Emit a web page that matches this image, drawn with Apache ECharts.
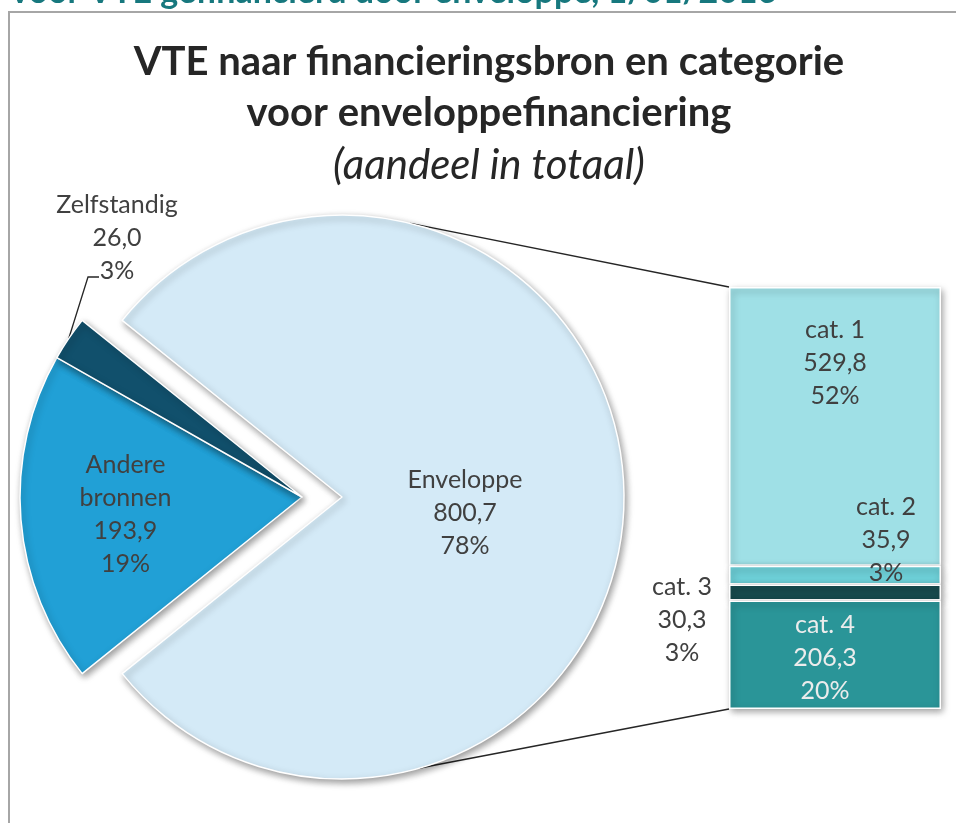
<!DOCTYPE html>
<html lang="nl">
<head>
    <meta charset="UTF-8">
    <title>VTE naar financieringsbron en categorie</title>
    <script src="https://cdn.jsdelivr.net/npm/echarts@6/dist/echarts.min.js"></script>
    <style>
        html, body { margin: 0; padding: 0; background: #fff; }
        #main { width: 956px; height: 823px; }
    </style>
</head>
<body>
<div id="main"></div>
<script>
    // taart: financieringsbron
    var bronNamen = ['Enveloppe', 'Andere\nbronnen', 'Zelfstandig'];
    var bronWaarden = [800.7, 193.9, 26.0];
    var bronPct = ['78%', '19%', '3%'];
    var bronKleuren = ['#d4eaf7', '#21a0d6', '#11506c'];

    // staaf: categorie binnen enveloppe (van boven naar onder)
    var catNamen = ['cat. 1', 'cat. 2', 'cat. 3', 'cat. 4'];
    var catWaarden = [529.8, 35.9, 30.3, 206.3];
    var catPct = ['52%', '3%', '3%', '20%'];
    var catKleuren = ['#9fe0e6', '#6dcfd7', '#174b4e', '#2a9598'];

    var cx = 342, cy = 497, R = 282, uitsprong = 40;
    var barLeft = 729, barTop = 287, barW = 212, barH = 422;
    var font = 'Lato, "Open Sans", sans-serif';

    var myChart = echarts.init(document.getElementById('main'));

    var totaal = bronWaarden.reduce(function (a, b) { return a + b; }, 0);
    var catTotaal = catWaarden.reduce(function (a, b) { return a + b; }, 0);
    var restHoek = (totaal - bronWaarden[0]) / totaal * 360;
    var startHoek = 180 - restHoek / 2;

    function fmt(v) { return v.toFixed(1).replace('.', ','); }

    var schaduw = { shadowBlur: 7, shadowColor: 'rgba(0,0,0,0.4)', shadowOffsetX: 2, shadowOffsetY: 3 };

    // label verschuivingen t.o.v. de standaardplaats
    var pieShift = [[-21, 16], [-33, 6], [0, 0]];
    var catShift = [[0, -63], [51, -35], [-153, 27], [-10, 3]];

    // punt op de rand van het zelfstandig-segment
    var zelfMid = (startHoek + bronWaarden[2] / totaal * 360 / 2) * Math.PI / 180;
    var zelfRand = [cx - uitsprong + R * Math.cos(zelfMid), cy - R * Math.sin(zelfMid)];
    var zelfLabel = [117, 238];

    function pieData(zichtbaar) {
        return bronWaarden.map(function (v, i) {
            var aan = zichtbaar(i);
            return {
                name: bronNamen[i],
                value: v,
                itemStyle: aan
                    ? Object.assign({ color: bronKleuren[i], borderColor: '#fff', borderWidth: 1.5 }, schaduw)
                    : { color: 'rgba(0,0,0,0)', borderWidth: 0 },
                label: { show: aan, position: i === 2 ? 'outside' : 'inside' },
                labelLine: { show: aan && i === 2 }
            };
        });
    }

    function pieSerie(centerX, zichtbaar) {
        return {
            type: 'pie',
            center: [centerX, cy],
            radius: R,
            startAngle: startHoek,
            clockwise: true,
            avoidLabelOverlap: false,
            silent: true,
            data: pieData(zichtbaar),
            label: {
                fontFamily: font,
                fontSize: 25,
                lineHeight: 33,
                color: '#404040',
                align: 'center',
                formatter: function (p) {
                    return p.name + '\n' + fmt(p.value) + '\n' + bronPct[p.dataIndex];
                }
            },
            labelLine: { lineStyle: { color: '#262626', width: 1.3 } },
            labelLayout: function (p) {
                if (p.dataIndex === 2) {
                    return {
                        x: zelfLabel[0], y: zelfLabel[1], align: 'center', verticalAlign: 'middle',
                        labelLinePoints: [zelfRand, [zelfLabel[0] - 29, zelfLabel[1] + 39], [zelfLabel[0] - 18, zelfLabel[1] + 39]]
                    };
                }
                return { dx: pieShift[p.dataIndex][0], dy: pieShift[p.dataIndex][1] };
            }
        };
    }

    var barSeries = catNamen.map(function (n, i) {
        return {
            type: 'bar',
            name: n,
            stack: 'env',
            z: 2 + i,
            data: [catWaarden[i]],
            barWidth: '100%',
            silent: true,
            itemStyle: Object.assign({ color: catKleuren[i], borderColor: '#fff', borderWidth: 1.5 }, schaduw),
            label: {
                show: true,
                position: 'inside',
                offset: catShift[i],
                fontFamily: font,
                fontSize: 25,
                lineHeight: 33,
                align: 'center',
                color: i === 3 ? '#ececec' : '#404040',
                formatter: function () { return n + '\n' + fmt(catWaarden[i]) + '\n' + catPct[i]; }
            }
        };
    }).reverse();

    var hoekBoven = 76 * Math.PI / 180, hoekOnder = 74 * Math.PI / 180;
    var option = {
        animation: false,
        grid: { left: barLeft, top: barTop, width: barW, height: barH },
        xAxis: { type: 'category', data: ['Enveloppe'], show: false },
        yAxis: { type: 'value', min: 0, max: catTotaal, show: false },
        graphic: [
            {
                type: 'rect', z: 0, silent: true,
                shape: { x: 9, y: 12, width: 980, height: 840 },
                style: { fill: 'none', stroke: '#a6a6a6', lineWidth: 2 }
            },
            {
                type: 'text', x: 11, y: 9, silent: true,
                style: {
                    text: 'voor VTE gefinancierd door enveloppe, 1/01/2016',
                    fontFamily: font, fontWeight: 'bold', fontSize: 34, fill: '#17787e',
                    align: 'left', verticalAlign: 'bottom'
                }
            },
            {
                type: 'text', x: 489, y: 62, silent: true,
                style: {
                    text: 'VTE naar financieringsbron en categorie',
                    fontFamily: font, fontWeight: 'bold', fontSize: 40, fill: '#262626',
                    align: 'center', verticalAlign: 'middle'
                }
            },
            {
                type: 'text', x: 489, y: 113, silent: true,
                style: {
                    text: 'voor enveloppefinanciering',
                    fontFamily: font, fontWeight: 'bold', fontSize: 40, fill: '#262626',
                    align: 'center', verticalAlign: 'middle'
                }
            },
            {
                type: 'text', x: 489, y: 165, silent: true,
                style: {
                    text: '(aandeel in totaal)',
                    fontFamily: font, fontStyle: 'italic', fontSize: 42, fill: '#262626',
                    align: 'center', verticalAlign: 'middle'
                }
            },
            {
                type: 'line', z: 1, silent: true,
                shape: { x1: cx + R * Math.cos(hoekBoven), y1: cy - R * Math.sin(hoekBoven), x2: barLeft, y2: barTop },
                style: { stroke: '#262626', lineWidth: 1.5 }
            },
            {
                type: 'line', z: 1, silent: true,
                shape: { x1: cx + R * Math.cos(hoekOnder), y1: cy + R * Math.sin(hoekOnder), x2: barLeft, y2: barTop + barH },
                style: { stroke: '#262626', lineWidth: 1.5 }
            }
        ],
        series: [
            pieSerie(cx, function (i) { return i === 0; }),
            pieSerie(cx - uitsprong, function (i) { return i > 0; })
        ].concat(barSeries)
    };

    myChart.setOption(option);
</script>
</body>
</html>
